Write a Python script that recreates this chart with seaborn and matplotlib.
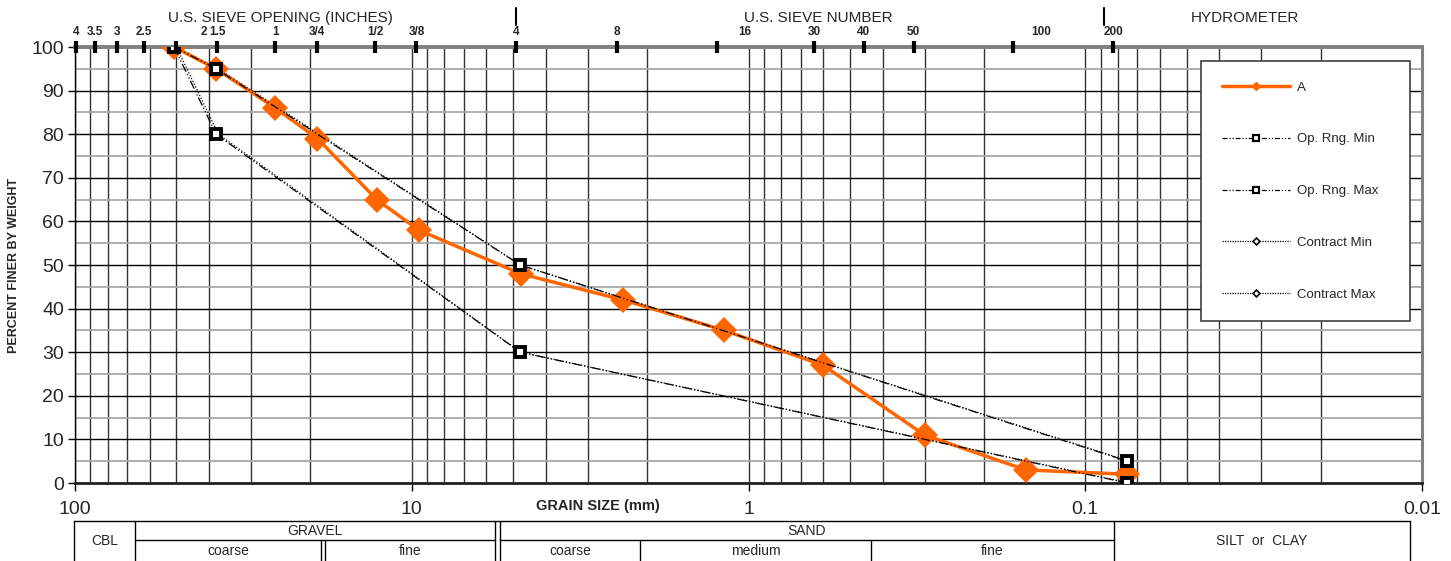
import pandas as pd
import seaborn as sns
import matplotlib.pyplot as plt
from matplotlib.lines import Line2D
from matplotlib.ticker import NullLocator
from matplotlib.transforms import ScaledTranslation

# Sieblinie A (Korngröße in mm, Durchgang in %)
sieve_mm = [50.8, 38.1, 25.4, 19.05, 12.7, 9.525, 4.75, 2.36, 1.18, 0.6, 0.3, 0.15, 0.075]
passing_a = [100, 95, 86, 79, 65, 58, 48, 42, 35, 27, 11, 3, 2]

# Betriebsbereich (Op. Rng.)
op_mm = [50.8, 38.1, 4.76, 0.075]
op_min = [100, 80, 30, 0]
op_max = [100, 95, 50, 5]

# Vertragsgrenzen (Contract)
contract_mm = [50.0, 37.5, 4.75, 0.074]
contract_min = [100, 80, 30, 0]
contract_max = [100, 95, 50, 5]

# obere Achse: Siebe
top_sieve_mm = [101.6, 88.9, 76.2, 63.5, 50.8, 38.1, 25.4, 19.05, 12.7, 9.525,
                4.75, 2.36, 1.18, 0.6, 0.425, 0.3, 0.15, 0.075]
top_sieve_labels = ["4", "3.5", "3", "2.5", "2", "1.5", "1", "3/4", "1/2", "3/8",
                    "4", "8", "16", "30", "40", "50", "100", "200"]
shifted_labels = [4, 12, 16]  # Beschriftungen, die rechts neben dem Strich stehen

x_ticks = [100, 10, 1, 0.1, 0.01]
x_tick_labels = ["100", "10", "1", "0.1", "0.01"]

ORANGE = "#FF6600"
W, H = 1451, 561

sns.set_theme(style="white")
plt.rcParams["font.family"] = ["Liberation Sans", "DejaVu Sans"]

fig = plt.figure(figsize=(W / 100, H / 100), dpi=100)
ax = fig.add_axes([75 / W, 1 - 483 / H, 1347 / W, 436 / H])
ax.set_xscale("log")
ax.set_xlim(100, 0.01)
ax.set_ylim(0, 100)

# Gitter
ax.set_xticks(x_ticks)
ax.set_xticklabels(x_tick_labels)
ax.set_yticks(range(0, 101, 10))
ax.set_yticks(range(5, 100, 10), minor=True)
ax.grid(which="both", axis="x", color="#333333", lw=1.0)
ax.grid(which="major", axis="y", color="black", lw=1.0)
ax.grid(which="minor", axis="y", color="#a8a8a8", lw=1.3)
ax.set_axisbelow(True)
ax.tick_params(which="minor", length=0)
ax.tick_params(axis="x", which="major", direction="out", length=6, width=1,
               color="black", labelsize=14, pad=7, bottom=True)
ax.tick_params(axis="y", which="major", direction="out", length=5, width=1,
               color="black", labelsize=14, pad=3, left=True)
for side, col, lw in [("top", "#808080", 2.8), ("right", "#808080", 2.2),
                      ("bottom", "#222222", 2.0), ("left", "black", 1.0)]:
    ax.spines[side].set_color(col)
    ax.spines[side].set_linewidth(lw)

# Kurven
sns.lineplot(x=contract_mm, y=contract_min, ax=ax, color="black", lw=0.9,
             linestyle=(0, (1, 1.5)), marker="D", ms=3.5, mfc="white", mec="black",
             mew=1.2, sort=False, estimator=None, zorder=3)
sns.lineplot(x=contract_mm, y=contract_max, ax=ax, color="black", lw=0.9,
             linestyle=(0, (1, 1.5)), marker="D", ms=3.5, mfc="white", mec="black",
             mew=1.2, sort=False, estimator=None, zorder=3)
sns.lineplot(x=sieve_mm, y=passing_a, ax=ax, color=ORANGE, lw=2.5,
             marker="D", ms=13, mfc=ORANGE, mec=ORANGE, mew=0,
             sort=False, estimator=None, zorder=4)
sns.lineplot(x=op_mm, y=op_min, ax=ax, color="black", lw=0.9,
             linestyle=(0, (7, 2, 1, 2, 1, 2)), marker="s", ms=7, mfc="white",
             mec="black", mew=2.8, sort=False, estimator=None, zorder=5)
sns.lineplot(x=op_mm, y=op_max, ax=ax, color="black", lw=0.9,
             linestyle=(0, (7, 2, 1, 2, 1, 2)), marker="s", ms=7, mfc="white",
             mec="black", mew=2.8, sort=False, estimator=None, zorder=5)

# Legende
handles = [
    Line2D([], [], color=ORANGE, lw=2.5, marker="D", ms=4, mec=ORANGE),
    Line2D([], [], color="black", lw=0.9, ls=(0, (4, 1.5, 1, 1.5, 1, 1.5)),
           marker="s", ms=5, mfc="white", mec="black", mew=1.6),
    Line2D([], [], color="black", lw=0.9, ls=(0, (4, 1.5, 1, 1.5, 1, 1.5)),
           marker="s", ms=5, mfc="white", mec="black", mew=1.6),
    Line2D([], [], color="black", lw=0.9, ls=(0, (1, 1)),
           marker="D", ms=3.5, mfc="white", mec="black", mew=1.2),
    Line2D([], [], color="black", lw=0.9, ls=(0, (1, 1)),
           marker="D", ms=3.5, mfc="white", mec="black", mew=1.2),
]
labels = ["A", "Op. Rng. Min", "Op. Rng. Max", "Contract Min", "Contract Max"]
leg = ax.legend(handles, labels, loc="upper left",
                bbox_to_anchor=(0.836, 0.968, 0.155, 0.0), mode="expand",
                borderaxespad=0, fontsize=9.5, frameon=True, fancybox=False,
                framealpha=1, edgecolor="#404040", borderpad=1.55,
                labelspacing=3.0, handlelength=5.2, handletextpad=0.5)
leg.get_frame().set_linewidth(1.2)
leg.set_zorder(10)

# obere Achse mit Sieben
ax2 = ax.twiny()
ax2.set_xscale("log")
ax2.set_xlim(102.3, 0.00875)
ax2.set_xticks(top_sieve_mm)
ax2.set_xticklabels(top_sieve_labels)
ax2.xaxis.set_minor_locator(NullLocator())
ax2.tick_params(axis="x", which="major", direction="inout", length=9, width=3,
                color="black", labelsize=8.5, pad=2, top=True, bottom=False)
for t in ax2.get_xticklabels():
    t.set_fontweight("bold")
for i in shifted_labels:
    lbl = ax2.get_xticklabels()[i]
    lbl.set_transform(lbl.get_transform() + ScaledTranslation(0.28, 0, fig.dpi_scale_trans))
for s in ax2.spines.values():
    s.set_visible(False)
for xs in [4.75, 0.08]:
    ax2.plot([xs, xs], [1.05, 1.089], transform=ax2.get_xaxis_transform(),
             color="black", lw=1.5, clip_on=False)

fig.text(280 / W, 1 - 18 / H, "U.S. SIEVE OPENING (INCHES)", ha="center", va="center", fontsize=11)
fig.text(818 / W, 1 - 18 / H, "U.S. SIEVE NUMBER", ha="center", va="center", fontsize=11)
fig.text(1245 / W, 1 - 18 / H, "HYDROMETER", ha="center", va="center", fontsize=11)
fig.text(14 / W, 1 - 265 / H, "PERCENT FINER BY WEIGHT", rotation=90, ha="center",
         va="center", fontsize=9, fontweight="bold")
fig.text(598 / W, 1 - 506 / H, "GRAIN SIZE (mm)", ha="center", va="center",
         fontsize=10.5, fontweight="bold")

# Klassifizierungstabelle unten
tax = fig.add_axes([0, 0, 1, 1], zorder=-1)
tax.set_xlim(0, W)
tax.set_ylim(H, 0)
tax.axis("off")
top, mid, bot = 521, 540, 561
kw = dict(color="black", lw=1.0)
tax.plot([74, 1410], [top, top], **kw)
tax.plot([135, 495], [mid, mid], **kw)
tax.plot([500, 1114], [mid, mid], **kw)
for xv in [74, 135, 495, 500, 1114, 1410]:
    tax.plot([xv, xv], [top, bot], **kw)
for xv in [321, 325, 640, 871]:
    tax.plot([xv, xv], [mid, bot], **kw)
cells = [("CBL", 105, 541), ("GRAVEL", 315, 531), ("SAND", 807, 531),
         ("SILT  or  CLAY", 1262, 541), ("coarse", 228, 551), ("fine", 410, 551),
         ("coarse", 570, 551), ("medium", 756, 551), ("fine", 992, 551)]
for txt, xv, yv in cells:
    tax.text(xv, yv, txt, ha="center", va="center", fontsize=10)

fig.savefig("out.png", dpi=100)
plt.close(fig)
